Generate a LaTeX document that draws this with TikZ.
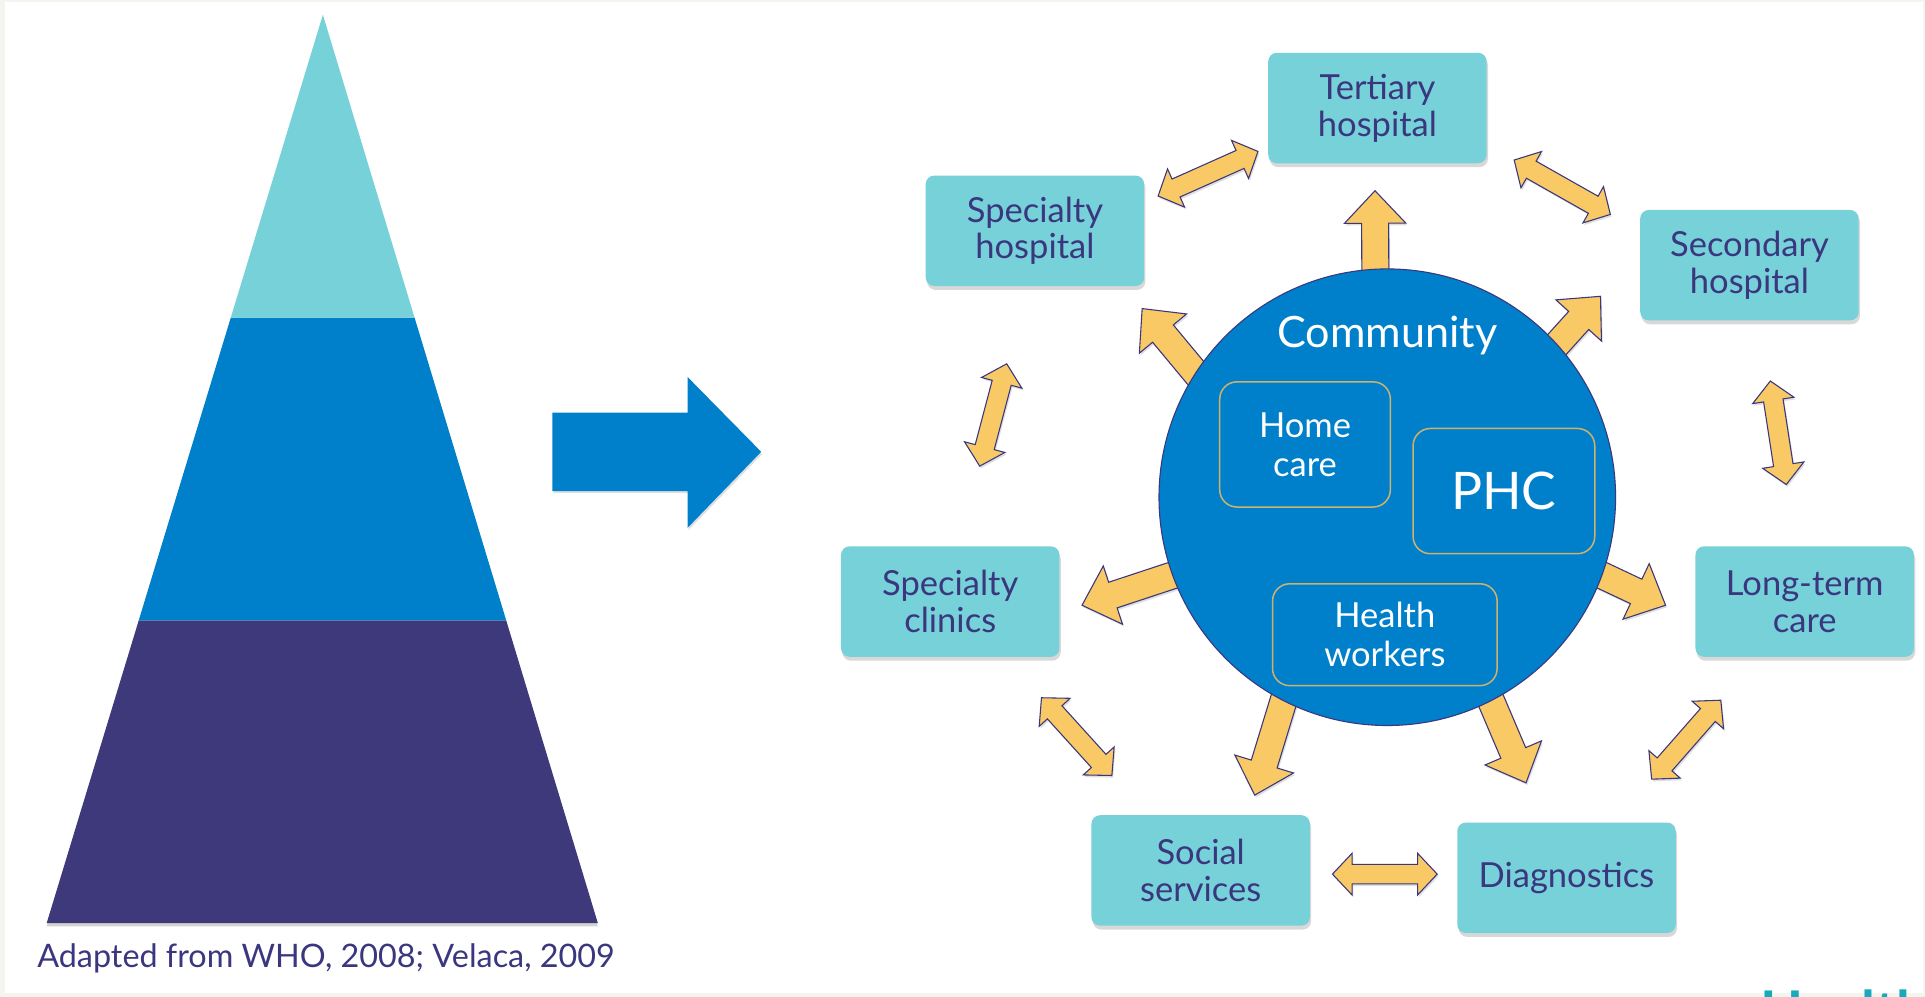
\documentclass[tikz,border=0pt]{standalone}
\usepackage{fontspec}
\setmainfont{Lato}
\usetikzlibrary{calc,shadows}

\definecolor{frameback}{HTML}{F3F5EE}
\definecolor{boxteal}{HTML}{76D1D9}
\definecolor{midblue}{HTML}{0080CA}
\definecolor{deeppurple}{HTML}{3D397A}
\definecolor{arrowyellow}{HTML}{F8C964}
\definecolor{navytext}{HTML}{3A377E}
\definecolor{goldline}{HTML}{CDB26E}
\definecolor{logoteal}{HTML}{17A9BC}

\tikzset{
  carebox/.style={rectangle, rounded corners=4pt, fill=boxteal, text=navytext, align=center,
    minimum width=3.56cm, minimum height=1.8cm, inner sep=2pt,
    font=\fontsize{16}{17}\selectfont,
    drop shadow={shadow xshift=0.6pt, shadow yshift=-1.8pt, opacity=0.3}},
  innerbox/.style={rectangle, rounded corners=8pt, draw=goldline, line width=0.7pt,
    text=white, align=center, font=\fontsize{16}{18}\selectfont},
  yarrow/.style={fill=arrowyellow, draw=navytext, line width=0.5pt, line join=miter,
    drop shadow={shadow xshift=0.6pt, shadow yshift=-1pt, opacity=0.25}},
}

\newcommand{\onewayarrow}[2]{%
  \path (#1) coordinate (aB) (#2) coordinate (aE);
  \coordinate (aS) at ($(aB)!-0.6cm!(aE)$);
  \coordinate (aH) at ($(aE)!0.53cm!(aS)$);
  \filldraw[yarrow] ($(aS)!0.22cm!90:(aE)$) -- ($(aH)!0.22cm!90:(aE)$) -- ($(aH)!0.5cm!90:(aE)$) -- (aE)
    -- ($(aH)!0.5cm!-90:(aE)$) -- ($(aH)!0.22cm!-90:(aE)$) -- ($(aS)!0.22cm!-90:(aE)$) -- cycle;
}

\newcommand{\twowayarrow}[2]{%
  \path (#1) coordinate (aS) (#2) coordinate (aE);
  \coordinate (aP) at ($(aS)!0.32cm!(aE)$);
  \coordinate (aQ) at ($(aE)!0.32cm!(aS)$);
  \filldraw[yarrow] (aS) -- ($(aP)!0.34cm!90:(aE)$) -- ($(aP)!0.16cm!90:(aE)$) -- ($(aQ)!0.16cm!90:(aE)$)
    -- ($(aQ)!0.34cm!90:(aE)$) -- (aE) -- ($(aQ)!0.34cm!-90:(aE)$) -- ($(aQ)!0.16cm!-90:(aE)$)
    -- ($(aP)!0.16cm!-90:(aE)$) -- ($(aP)!0.34cm!-90:(aE)$) -- cycle;
}

\begin{document}
\begin{tikzpicture}[x=0.02cm, y=-0.02cm]
  \useasboundingbox (0,0) rectangle (1568,812);
  \fill[frameback] (0,0) rectangle (1568,812);
  \fill[white] (4,1.5) rectangle (1566.5,809);

  \coordinate (apex) at (263,12);
  \coordinate (bl) at (38,752);
  \coordinate (br) at (487,752);
  \fill[deeppurple, drop shadow={shadow xshift=0pt, shadow yshift=-1.5pt, opacity=0.35}]
    ($(apex)!2/3!(bl)$) -- (bl) -- (br) -- ($(apex)!2/3!(br)$) -- cycle;
  \fill[midblue] ($(apex)!1/3!(bl)$) -- ($(apex)!2/3!(bl)$) -- ($(apex)!2/3!(br)$) -- ($(apex)!1/3!(br)$) -- cycle;
  \fill[boxteal] (apex) -- ($(apex)!1/3!(bl)$) -- ($(apex)!1/3!(br)$) -- cycle;

  \node[anchor=west, text=navytext, font=\fontsize{15}{17}\selectfont, inner sep=0pt] (source) at (30,781)
    {Adapted from WHO, 2008; Velaca, 2009};

  \fill[midblue, drop shadow={shadow xshift=0.5pt, shadow yshift=-1pt, opacity=0.25}]
    (450,336) -- (560,336) -- (560,307) -- (620,368) -- (560,430) -- (560,400) -- (450,400) -- cycle;

  \node[carebox] (tert) at (1122,88) {Tertiary\\hospital};
  \node[carebox] (sph) at (843,188) {Specialty\\hospital};
  \node[carebox] (sec) at (1425,216) {Secondary\\hospital};
  \node[carebox] (spc) at (774,490) {Specialty\\clinics};
  \node[carebox] (ltc) at (1470,490) {Long-term\\care};
  \node[carebox] (soc) at (978,709) {Social\\services};
  \node[carebox] (dia) at (1276,715) {Diagnostics};

  \coordinate (commc) at (1130,405);
  \path (commc) node[circle, minimum size=7.44cm, inner sep=0pt] (comm) {};

  \onewayarrow{comm.93}{$(tert.south)+(-2,22)$}
  \onewayarrow{comm.147}{$(sph.south east)+(-2,18)$}
  \onewayarrow{comm.42}{$(sec.south west)+(-32,-20)$}
  \onewayarrow{comm.200}{$(spc.east)+(18,3)$}
  \onewayarrow{comm.-20}{$(ltc.west)+(-24,3)$}
  \onewayarrow{comm.243}{$(soc.north)+(44,-16)$}
  \onewayarrow{comm.297}{$(dia.north)+(-33,-32)$}

  \twowayarrow{$(sph.north east)+(11,17)$}{$(tert.south west)+(-8,-10)$}
  \twowayarrow{$(tert.south east)+(22,-3)$}{$(sec.north west)+(-24,4)$}
  \twowayarrow{$(sph.south)+(-23,63)$}{$(spc.north)+(24,-65)$}
  \twowayarrow{$(sec.south)+(17,49)$}{$(ltc.north)+(-15,-50)$}
  \twowayarrow{$(spc.south east)+(-15,33)$}{$(soc.north west)+(17,-32)$}
  \twowayarrow{$(soc.east)+(18,3)$}{$(dia.west)+(-16,-3)$}
  \twowayarrow{$(ltc.south west)+(21,35)$}{$(dia.north east)+(-20,-35)$}

  \fill[midblue, draw=navytext, line width=0.5pt] (comm.center) circle [radius=3.72cm];

  \node[text=white, font=\fontsize{20}{22}\selectfont] (commtitle) at (1130,273) {Community};
  \node[innerbox, minimum width=2.78cm, minimum height=2.04cm] (home) at (1063,362) {Home\\care};
  \node[innerbox, minimum width=2.96cm, minimum height=2.04cm, font=\fontsize{24}{26}\selectfont] (phc) at (1225,400) {PHC};
  \node[innerbox, minimum width=3.66cm, minimum height=1.66cm] (hw) at (1128,517) {Health\\workers};

  \begin{scope}
    \clip (0,0) rectangle (1568,812);
    \node[anchor=north west, text=logoteal, font=\bfseries\fontsize{26}{28}\selectfont, inner sep=0pt] (logo)
      at (1434,805.5) {Health};
  \end{scope}
\end{tikzpicture}
\end{document}
